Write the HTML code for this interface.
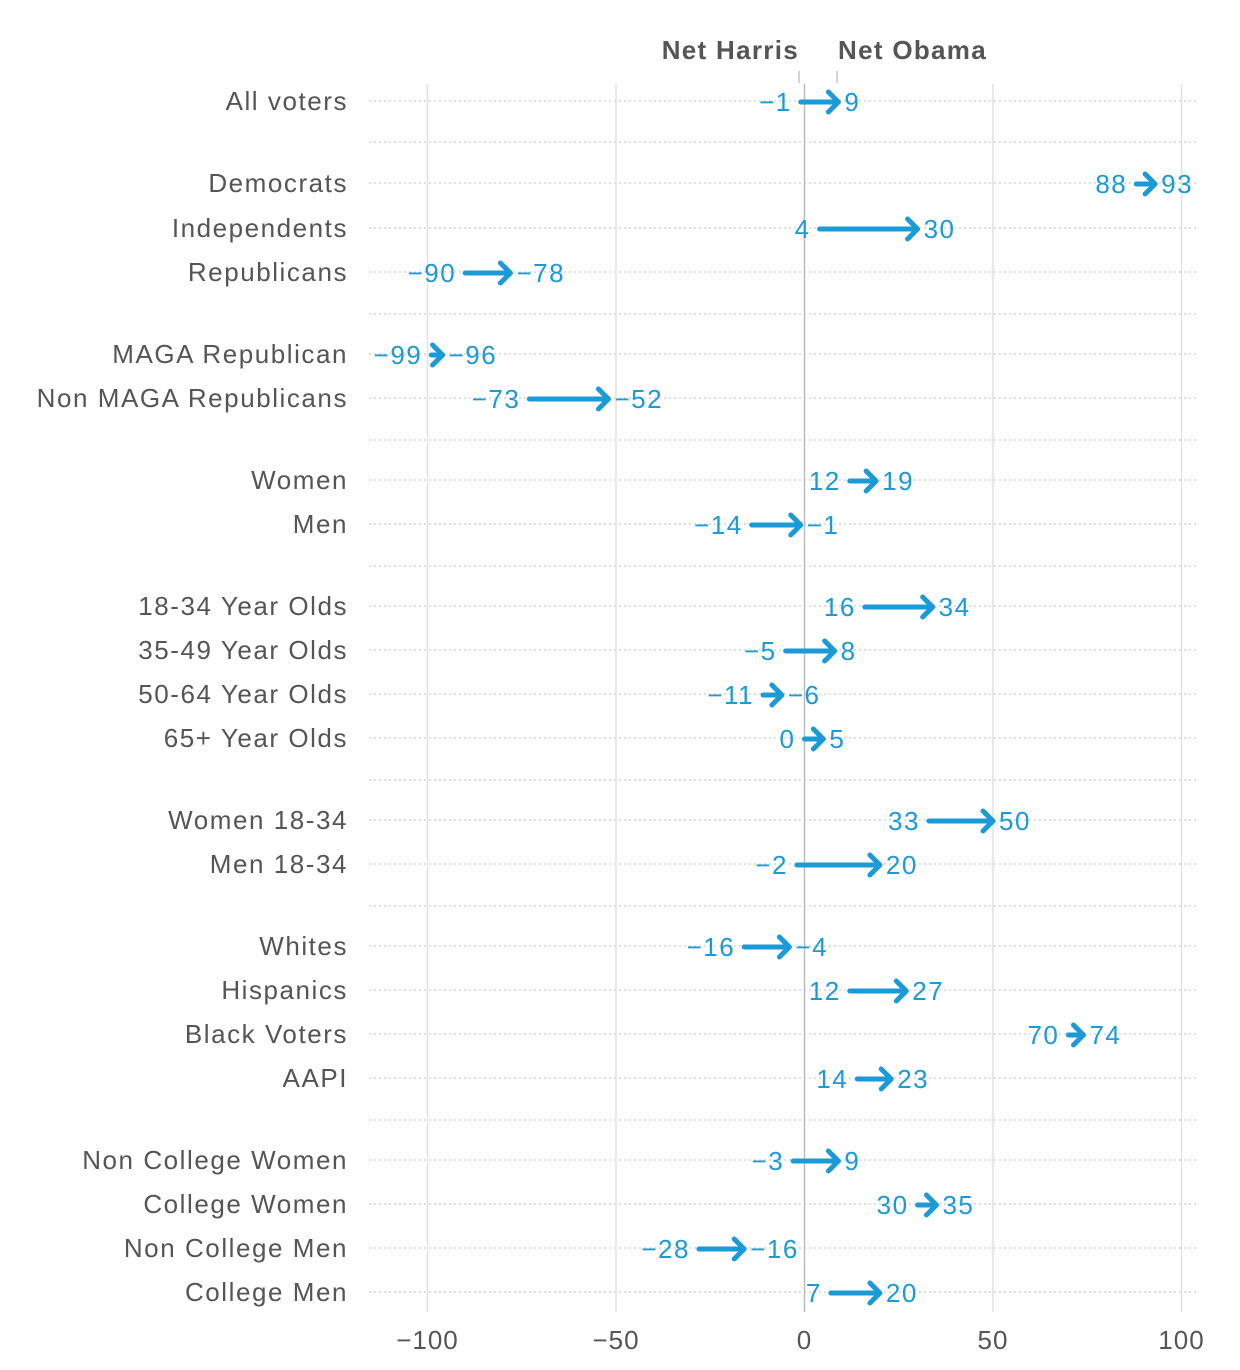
<!DOCTYPE html>
<html><head><meta charset="utf-8"><style>body{margin:0;background:#fff}svg{display:block}</style></head><body>
<svg id="s" width="1240" height="1370" xmlns="http://www.w3.org/2000/svg" font-family="Liberation Sans, sans-serif"></svg>
<script>
const s=document.getElementById('s');
const X=v=>804.5+v*3.77;
const rows=[["All voters",101,-1,9],["Democrats",183,88,93],["Independents",228,4,30],["Republicans",272,-90,-78],["MAGA Republican",354,-99,-96],["Non MAGA Republicans",398,-73,-52],["Women",480,12,19],["Men",524,-14,-1],["18-34 Year Olds",606,16,34],["35-49 Year Olds",650,-5,8],["50-64 Year Olds",694,-11,-6],["65+ Year Olds",738,0,5],["Women 18-34",820,33,50],["Men 18-34",864,-2,20],["Whites",946,-16,-4],["Hispanics",990,12,27],["Black Voters",1034,70,74],["AAPI",1078,14,23],["Non College Women",1160,-3,9],["College Women",1204,30,35],["Non College Men",1248,-28,-16],["College Men",1292,7,20]];
const gaps=[142,314,440,566,780,906,1120];
let h='';
const fmt=v=>v<0?'\u2212'+(-v):''+v;
[...rows.map(r=>r[1]),...gaps].forEach(y=>h+=`<line x1="369" x2="1198" y1="${y}" y2="${y}" stroke="#ccc" stroke-width="1.2" stroke-dasharray="2 3"/>`);
[-100,-50,50,100].forEach(v=>h+=`<line x1="${X(v)}" x2="${X(v)}" y1="84" y2="1312" stroke="#e2e2e2" stroke-width="1.5"/>`);
h+=`<line x1="${X(0)}" x2="${X(0)}" y1="84" y2="1312" stroke="#bbb" stroke-width="1.5"/>`;
h+=`<line x1="799" x2="799" y1="71" y2="83" stroke="#aaa"/><line x1="837" x2="837" y1="71" y2="83" stroke="#aaa"/>`;
h+=`<text x="799" y="59" text-anchor="end" font-size="26" font-weight="bold" fill="#555" letter-spacing="1.3">Net Harris</text><text x="838" y="59" font-size="26" font-weight="bold" fill="#555" letter-spacing="1.3">Net Obama</text>`;
[-100,-50,0,50,100].forEach(v=>h+=`<text x="${X(v)}" y="1349" text-anchor="middle" font-size="26" fill="#555" letter-spacing="1">${fmt(v)}</text>`);
const C='#1a9ad6';
rows.forEach(([l,y,a,b])=>{
 h+=`<text x="348" y="${y+9}" text-anchor="end" font-size="26" fill="#555" letter-spacing="1.55">${l}</text>`;
 const xa=X(a),xb=X(b);
 h+=`<line x1="${xa}" x2="${xb-3}" y1="${y+1}" y2="${y+1}" stroke="${C}" stroke-width="5" stroke-linecap="round"/>`;
 h+=`<polyline points="${xb-10},${y-9} ${xb},${y+1} ${xb-10},${y+11}" fill="none" stroke="${C}" stroke-width="5" stroke-linecap="round" stroke-linejoin="round"/>`;
 h+=`<text x="${xa-9}" y="${y+10}" text-anchor="end" font-size="26" fill="${C}" letter-spacing="1.5">${fmt(a)}</text>`;
 h+=`<text x="${xb+6}" y="${y+10}" font-size="26" fill="${C}" letter-spacing="1.5">${fmt(b)}</text>`;
});
s.innerHTML=h;
</script>
</body></html>
